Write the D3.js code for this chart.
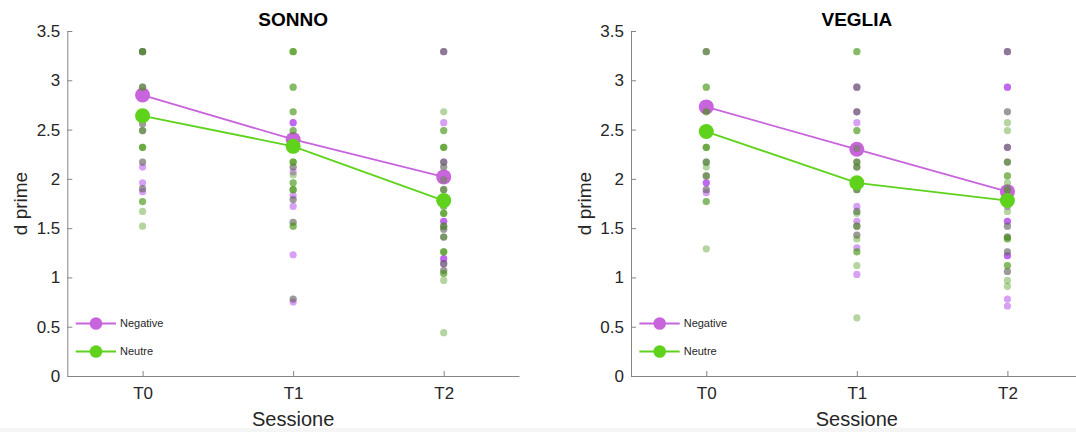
<!DOCTYPE html>
<html>
<head>
<meta charset="utf-8">
<script src="https://cdn.jsdelivr.net/npm/d3@7"></script>
<style>
  body { margin: 0; background: #fff; }
  text { font-family: "Liberation Sans", Arial, sans-serif; }
</style>
</head>
<body>
<svg id="chart" width="1076" height="432"></svg>
<script>
// sessioni e tick
const sessions = ['T0', 'T1', 'T2']
const yTicks = [0, 0.5, 1, 1.5, 2, 2.5, 3, 3.5]
const conditions = ['Negative', 'Neutre']

// medie (marcatori grandi)
const sonnoNegMean = [2.85, 2.40, 2.02]
const sonnoNeuMean = [2.64, 2.33, 1.78]
const vegliaNegMean = [2.73, 2.30, 1.87]
const vegliaNeuMean = [2.48, 1.96, 1.78]

// punti singoli, uno per sessione
const sonnoNeg = [
  [3.29, 3.29, 2.93, 2.56, 2.49, 2.17, 2.12, 1.96, 1.90, 1.87],
  [2.57, 2.57, 2.12, 2.07, 1.83, 1.79, 1.72, 1.56, 1.23, 0.78, 0.75],
  [3.29, 3.29, 2.57, 2.17, 2.17, 2.12, 1.99, 1.89, 1.57, 1.57, 1.52, 1.49, 1.41, 1.19, 1.19, 1.14, 1.14, 1.07]
]
const sonnoNeu = [
  [3.29, 3.29, 3.29, 2.93, 2.93, 2.56, 2.49, 2.49, 2.32, 2.32, 2.32, 2.17, 1.90, 1.77, 1.77, 1.67, 1.52],
  [3.29, 3.29, 3.29, 2.93, 2.93, 2.68, 2.68, 2.49, 2.49, 2.17, 2.17, 2.17, 2.12, 2.04, 1.96, 1.96,
   1.89, 1.89, 1.89, 1.79, 1.56, 1.52, 1.52, 0.78],
  [3.29, 2.68, 2.49, 2.49, 2.32, 2.32, 2.32, 2.17, 2.12, 1.99, 1.89, 1.89, 1.72, 1.72, 1.65, 1.65, 1.65,
   1.52, 1.52, 1.49, 1.41, 1.41, 1.26, 1.26, 1.26, 1.14, 1.07, 1.04, 1.04, 0.97, 0.44]
]
const vegliaNeg = [
  [3.29, 2.17, 2.03, 1.96, 1.96, 1.89, 1.86],
  [2.93, 2.93, 2.68, 2.68, 2.57, 2.31, 2.17, 2.12, 1.89, 1.72, 1.67, 1.57, 1.52, 1.43, 1.30, 1.03],
  [3.29, 3.29, 2.93, 2.93, 2.68, 2.32, 2.32, 2.17, 1.89, 1.72, 1.57, 1.57, 1.52, 1.41, 1.26, 1.22, 1.22,
   1.06, 0.78, 0.71]
]
const vegliaNeu = [
  [3.29, 3.29, 2.93, 2.93, 2.68, 2.68, 2.32, 2.32, 2.32, 2.17, 2.17, 2.12, 2.03, 2.03, 1.89, 1.77, 1.77, 1.29],
  [3.29, 3.29, 2.93, 2.68, 2.49, 2.49, 2.31, 2.17, 2.17, 2.12, 2.12, 1.89, 1.89, 1.67, 1.65, 1.52, 1.52,
   1.43, 1.39, 1.26, 1.26, 1.12, 0.59],
  [3.29, 2.68, 2.57, 2.49, 2.32, 2.17, 2.17, 2.03, 2.03, 1.96, 1.89, 1.89, 1.67, 1.52, 1.41, 1.41, 1.39,
   1.39, 1.26, 1.12, 1.12, 1.06, 0.97, 0.91]
]

const negColor = '#c864dc'
const neuColor = '#5fd21c'
const negDot = '#9b11e6'
const neuDot = '#439312'

const svg = d3.select('#chart')
const axisW = 451.7
const yTop = 31
const yBottom = 376

// striscia grigia in basso
svg.append('rect').attr('x', 0).attr('y', 428).attr('width', 1076).attr('height', 4).attr('fill', '#f5f5f5')

function drawPanel(x0, title, negPts, neuPts, negMean, neuMean) {
  const x = d3.scaleLinear().domain([-0.5, 2.5]).range([x0, x0 + axisW])
  const y = d3.scaleLinear().domain([0, 3.5]).range([yBottom, yTop])
  const g = svg.append('g')

  // assi
  const xAxis = g.append('g')
    .attr('transform', `translate(0,${yBottom})`)
    .call(d3.axisBottom(x).tickValues([0, 1, 2]).tickFormat(i => sessions[i])
      .tickSizeInner(-5).tickSizeOuter(0).tickPadding(11))
  const yAxis = g.append('g')
    .attr('transform', `translate(${x0},0)`)
    .call(d3.axisLeft(y).tickValues(yTicks).tickFormat(d => String(d))
      .tickSizeInner(-5).tickSizeOuter(0).tickPadding(7))
  ;[xAxis, yAxis].forEach(a => {
    a.select('.domain').attr('stroke', '#858585')
    a.selectAll('.tick line').attr('stroke', '#858585')
    a.selectAll('.tick text').attr('fill', '#262626').style('font-size', '17px')
      .style('font-family', '"Liberation Sans", Arial, sans-serif')
  })

  // titolo ed etichette
  const cx = x0 + axisW / 2
  g.append('text').attr('x', cx).attr('y', 26).attr('text-anchor', 'middle')
    .style('font-size', '19px').style('font-weight', 'bold').attr('fill', '#000').text(title)
  g.append('text').attr('x', cx).attr('y', 426).attr('text-anchor', 'middle')
    .style('font-size', '20px').attr('fill', '#262626').text('Sessione')
  g.append('text').attr('transform', `translate(${x0 - 40},${(yTop + yBottom) / 2}) rotate(-90)`)
    .attr('text-anchor', 'middle').style('font-size', '19px').attr('fill', '#262626').text('d prime')

  const line = d3.line().x((d, i) => x(i)).y(d => y(d))
  const layers = [
    { pts: negPts, mean: negMean, dot: negDot, col: negColor },
    { pts: neuPts, mean: neuMean, dot: neuDot, col: neuColor }
  ]
  layers.forEach(l => {
    const flat = l.pts.flatMap((arr, i) => arr.map(v => ({ i, v })))
    g.append('g').selectAll('circle').data(flat).join('circle')
      .attr('cx', d => x(d.i)).attr('cy', d => y(d.v)).attr('r', 3.6)
      .attr('fill', l.dot).attr('fill-opacity', 0.4)
    g.append('path').datum(l.mean).attr('d', line)
      .attr('fill', 'none').attr('stroke', l.col).attr('stroke-width', 1.8)
    g.append('g').selectAll('circle').data(l.mean).join('circle')
      .attr('cx', (d, i) => x(i)).attr('cy', d => y(d)).attr('r', 7.5)
      .attr('fill', l.col)
  })

  // legenda
  const leg = g.append('g')
  conditions.forEach((c, k) => {
    const ly = 323.5 + k * 28
    const col = k === 0 ? negColor : neuColor
    leg.append('line').attr('x1', x0 + 8.4).attr('x2', x0 + 48.7).attr('y1', ly).attr('y2', ly)
      .attr('stroke', col).attr('stroke-width', 1.8)
    leg.append('circle').attr('cx', x0 + 28.7).attr('cy', ly).attr('r', 6.3).attr('fill', col)
    leg.append('text').attr('x', x0 + 52.7).attr('y', ly).attr('dy', '0.35em')
      .style('font-size', '11px').attr('fill', '#262626').text(c)
  })
}

drawPanel(67.3, 'SONNO', sonnoNeg, sonnoNeu, sonnoNegMean, sonnoNeuMean)
drawPanel(631, 'VEGLIA', vegliaNeg, vegliaNeu, vegliaNegMean, vegliaNeuMean)
</script>
</body>
</html>
